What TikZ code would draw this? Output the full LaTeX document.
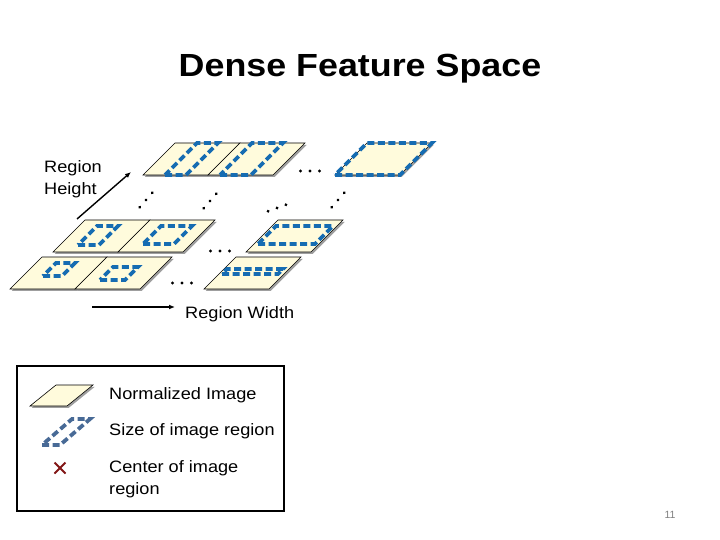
\documentclass[tikz,border=0pt]{standalone}
\usepackage{fontspec}
\setmainfont{Liberation Sans}
\usepackage{tikz}
\usepackage{xcolor}
\usetikzlibrary{arrows.meta,shapes.misc}

\definecolor{paper}{RGB}{255,251,220}
\definecolor{regionblue}{RGB}{22,108,178}
\definecolor{legendblue}{RGB}{72,106,150}
\definecolor{crossred}{RGB}{130,22,22}

\begin{document}
\begin{tikzpicture}[x=1pt,y=-1pt,
  panel/.style={draw=black, line width=0.6pt, fill=paper},
  panelshadow/.style={fill=gray!75},
  region/.style={draw=regionblue, line width=3.8pt, dash pattern=on 7pt off 3.5pt},
  txt/.style={font=\fontsize{16.5}{22}\selectfont, xscale=1.1, align=left, inner sep=0pt},
  axisarrow/.style={line width=1.4pt, -{Latex[length=6pt,width=5pt]}}]
  \useasboundingbox (0,0) rectangle (720,540);

  % Title
  \node[font=\fontsize{32}{38}\selectfont\bfseries, xscale=1.12, anchor=base] (title) at (360,77) {Dense Feature Space};

  % Normalized images (back row first), each with its image region
  \foreach \px/\py/\ru/\rv/\rw/\rh in {
    143/175/22/0/21/32, 208/175/12/0/31/32, 335/175/0/0/65/32,
    53/252/18/7/21/19, 118/252/17/8/31/18, 246/252/4/8/57/18,
    10/289/20/13/19/13, 75/289/16/9/25/13, 204/289/3/15/56/5}
  {
    \fill[panelshadow] (\px+1.8,\py+1.8) -- ++(65,0) -- ++(32,-32) -- ++(-65,0) -- cycle;
    \draw[panel] (\px,\py) -- ++(65,0) -- ++(32,-32) -- ++(-65,0) -- cycle;
    \draw[region] (\px+\ru+\rv,\py-\rv) -- ++(\rw,0) -- ++(\rh,-\rh) -- ++(-\rw,0) -- cycle;
  }

  % Dots between the images
  \foreach \cx/\cy/\ang in {182/283/0, 220/251/0, 310/171/0,
    146/200/49, 210/201/49, 277/208/20, 338/200/49}
  {
    \foreach \k in {-1,0,1}
      \fill[rotate around={\ang:(\cx,\cy)}] (\cx+\k*9.5,\cy) circle (1.6);
  }

  % Axes
  \coordinate (hfrom) at (77,219);
  \coordinate (hto) at (131,172);
  \coordinate (wfrom) at (92,307);
  \coordinate (wto) at (175,307);
  \draw[axisarrow] (hfrom) -- (hto);
  \draw[axisarrow] (wfrom) -- (wto);
  \node[txt, anchor=west] (hlabel) at (44,179) {Region\\Height};
  \node[txt, anchor=base west] (wlabel) at (185,318) {Region Width};

  % Legend
  \draw[line width=2.4pt] (17,366) rectangle (284,511);
  \fill[panelshadow] (31.8,407.8) -- (68.8,407.8) -- (94.8,386.8) -- (57.8,386.8) -- cycle;
  \draw[panel] (30,406) -- (67,406) -- (93,385) -- (56,385) -- cycle;
  \draw[region, draw=legendblue] (42,445) -- (60,445) -- (90,419) -- (72,419) -- cycle;
  \node[cross out, draw=crossred, line width=2pt, minimum size=9pt, inner sep=0pt] (xmark) at (60,468) {};
  \node[txt, anchor=base west] (legnorm) at (109,399) {Normalized Image};
  \node[txt, anchor=base west] (legsize) at (109,435) {Size of image region};
  \node[txt, anchor=west] (legcenter) at (109,479) {Center of image\\region};

  % Page number
  \node[font=\fontsize{10.5}{12}\selectfont, text=gray] (pagenum) at (670,515) {11};
\end{tikzpicture}
\end{document}
